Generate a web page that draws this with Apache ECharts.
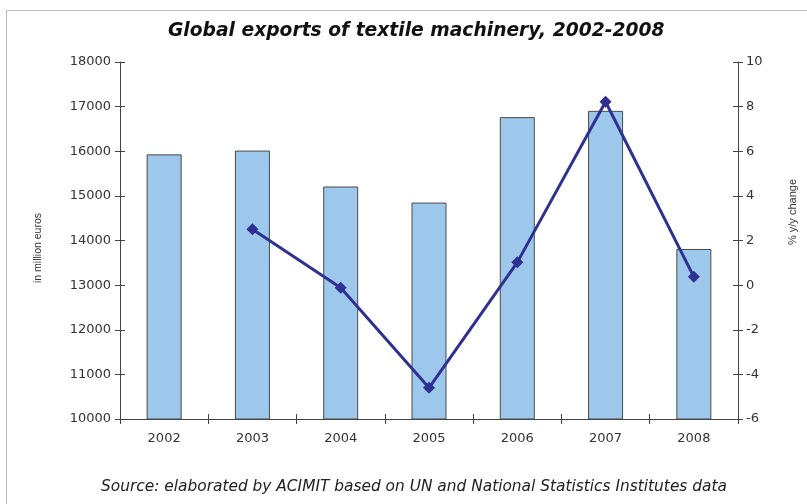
<!DOCTYPE html>
<html>
<head>
<meta charset="utf-8">
<script src="https://cdn.jsdelivr.net/npm/echarts@6/dist/echarts.min.js"></script>
<style>
  html, body { margin: 0; padding: 0; background: #fff; }
  #frame { position: absolute; left: 6px; top: 10px; width: 820px; height: 520px; border-left: 1px solid #bdbdbd; border-top: 1px solid #bdbdbd; }
  #chart { position: absolute; left: 0; top: 0; width: 807px; height: 504px; }
</style>
</head>
<body>
<div id="frame"></div>
<div id="chart"></div>
<script>
const years = ['2002', '2003', '2004', '2005', '2006', '2007', '2008'];
const exportsMillionEuros = [15930, 16015, 15210, 14850, 16765, 16905, 13810];
const yoyChange = [null, 2.5, -0.12, -4.6, 1.02, 8.22, 0.37];
const leftTicks = { min: 10000, max: 18000, interval: 1000 };
const rightTicks = { min: -6, max: 10, interval: 2 };
const leftAxisName = 'in million euros';
const rightAxisName = '% y/y change';

const font = "'DejaVu Sans', Verdana, sans-serif";
const nameFont = "'Liberation Sans', Arial, sans-serif";
const axisColor = '#444';
const textColor = '#333';

const chart = echarts.init(document.getElementById('chart'));
const grid = { left: 120, right: 69, top: 62, bottom: 85 };

chart.setOption({
  animation: false,
  backgroundColor: 'transparent',
  title: [
    {
      text: 'Global exports of textile machinery, 2002-2008',
      left: 163, top: 17,
      textStyle: { fontFamily: font, fontSize: 18.7, fontWeight: 'bold', fontStyle: 'italic', color: '#111' }
    },
    {
      text: 'Source: elaborated by ACIMIT based on UN and National Statistics Institutes data',
      left: 96, top: 474,
      textStyle: { fontFamily: font, fontSize: 15.4, fontWeight: 'normal', fontStyle: 'italic', color: '#222' }
    }
  ],
  graphic: [
    {
      type: 'text', x: 38, y: 248, rotation: Math.PI / 2,
      style: { text: leftAxisName, font: '10.5px ' + nameFont, fill: textColor, align: 'center', verticalAlign: 'middle' }
    },
    {
      type: 'text', x: 793, y: 212, rotation: Math.PI / 2,
      style: { text: rightAxisName, font: '11px ' + nameFont, fill: textColor, align: 'center', verticalAlign: 'middle' }
    }
  ],
  grid: grid,
  xAxis: [
    {
      type: 'category', data: years, boundaryGap: true,
      axisLine: { onZero: false, lineStyle: { color: axisColor, width: 1 } },
      axisTick: { show: true, length: 5, lineStyle: { color: axisColor } },
      axisLabel: { fontFamily: font, fontSize: 13, color: textColor, margin: 13 }
    },
    {
      type: 'category', data: years, boundaryGap: true, position: 'bottom',
      axisLine: { show: false, onZero: false },
      axisTick: { show: true, inside: true, length: 5, lineStyle: { color: axisColor } },
      axisLabel: { show: false }
    }
  ],
  yAxis: [
    {
      type: 'value', position: 'left', min: leftTicks.min, max: leftTicks.max, interval: leftTicks.interval,
      axisLine: { show: true, onZero: false, lineStyle: { color: axisColor, width: 1 } },
      axisTick: { show: true, length: 5, lineStyle: { color: axisColor } },
      axisLabel: { fontFamily: font, fontSize: 13, color: textColor, margin: 9, formatter: v => String(v) },
      splitLine: { show: false }
    },
    {
      type: 'value', position: 'right', min: rightTicks.min, max: rightTicks.max, interval: rightTicks.interval,
      axisLine: { show: true, onZero: false, lineStyle: { color: axisColor, width: 1 } },
      axisTick: { show: true, length: 5, lineStyle: { color: axisColor } },
      axisLabel: { fontFamily: font, fontSize: 13, color: textColor, margin: 8, formatter: v => String(v) },
      splitLine: { show: false }
    },
    {
      type: 'value', position: 'left', min: leftTicks.min, max: leftTicks.max, interval: leftTicks.interval,
      axisLine: { show: false, onZero: false },
      axisTick: { show: true, inside: true, length: 5, lineStyle: { color: axisColor } },
      axisLabel: { show: false }, splitLine: { show: false }
    },
    {
      type: 'value', position: 'right', min: rightTicks.min, max: rightTicks.max, interval: rightTicks.interval,
      axisLine: { show: false, onZero: false },
      axisTick: { show: true, inside: true, length: 5, lineStyle: { color: axisColor } },
      axisLabel: { show: false }, splitLine: { show: false }
    }
  ],
  series: [
    {
      type: 'bar', name: 'Exports', xAxisIndex: 0, yAxisIndex: 0,
      data: exportsMillionEuros, barWidth: 35,
      itemStyle: { color: '#9ec8eb', borderColor: '#4a4a4a', borderWidth: 1 }
    },
    {
      type: 'line', name: '% y/y change', xAxisIndex: 0, yAxisIndex: 1,
      data: yoyChange, connectNulls: false,
      symbol: 'diamond', symbolSize: 12,
      lineStyle: { color: '#2e3192', width: 3 },
      itemStyle: { color: '#2e3192' }
    }
  ]
});
</script>
</body>
</html>
